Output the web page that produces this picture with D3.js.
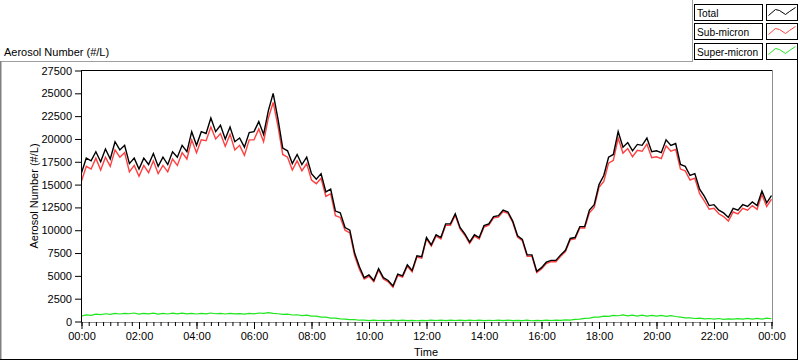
<!DOCTYPE html>
<html><head><meta charset="utf-8">
<script src="https://cdn.jsdelivr.net/npm/d3@7"></script>
<style>
body{margin:0;background:#fff}
svg{display:block}
text{font-family:"Liberation Sans",Arial,sans-serif;font-size:11px;fill:#000}
</style>
</head><body><svg id="c" width="800" height="361"></svg>
<script>
const seriesNames = ["Total","Sub-micron","Super-micron"];
const seriesColors = ["#000000","#ff4040","#1ee61e"];
const stepMinutes = 10;
const total = [16300,17900,17600,18600,17500,18900,17800,19700,18800,19300,
17300,17900,16700,17900,17200,18400,17000,18000,17200,18600,
18000,19300,18600,20800,19300,20800,20600,22300,20800,21500,
20000,21300,19700,20100,19100,20700,20800,21900,20500,23100,
25000,22200,19000,18700,17300,18300,17200,18000,16200,15600,
16200,14200,14500,12100,11900,10300,10000,7500,6000,4800,
5100,4500,5800,4800,4500,3900,5200,5000,6200,5600,
7200,7100,9200,8400,9500,9200,10700,10700,11800,10300,
9600,8700,9500,9200,10500,10700,11500,11600,12200,12000,
11000,9400,9000,7300,7300,5500,5900,6500,6700,6700,
7300,7800,9100,9200,10400,10400,12200,12800,15000,16000,
18000,18300,20800,19100,19600,18700,19400,19300,20100,18600,
18700,18500,19900,19300,19500,17200,17000,16000,16200,14500,
13700,12700,12800,12200,11900,11400,12400,12200,12800,12600,
13100,12700,14300,13000,13800];
const subMicron = [15400,17000,16700,17900,16600,18000,17000,18800,18000,18500,
16400,17100,15900,17100,16300,17600,16200,17100,16400,17800,
17100,18500,17800,19900,18500,19900,19800,21300,20000,20600,
19200,20500,18800,19300,18200,19900,19900,21100,19700,22300,
24000,21400,18300,18000,16600,17600,16500,17300,15500,15100,
15700,13700,14000,11600,11400,10000,9700,7200,5700,4650,
4950,4350,5650,4650,4350,3750,5050,4850,6050,5450,
7050,6950,9050,8250,9350,9050,10550,10550,11650,10150,
9450,8550,9350,9050,10350,10550,11350,11450,12050,11850,
10850,9250,8850,7150,7150,5350,5750,6350,6550,6550,
7150,7650,8950,9050,10250,10250,11900,12500,14700,15350,
17350,17650,20100,18450,18950,18050,18750,18650,19450,17950,
18050,17850,19250,18650,18850,16700,16500,15500,15700,14000,
13200,12300,12400,11800,11500,11000,12000,11800,12400,12200,
12700,12300,13900,12600,13400];
const superMicron = [600,720,680,800,760,850,790,880,820,900,
850,930,820,900,830,910,800,890,820,920,
830,910,840,880,820,900,830,930,850,880,
820,890,830,870,800,880,840,930,900,980,
900,850,780,800,710,740,650,690,580,590,
480,470,380,370,290,270,210,200,140,150,
100,140,110,130,90,140,100,150,100,130,
80,130,100,140,110,150,90,140,110,150,
90,140,110,150,100,130,110,150,90,140,
90,130,100,140,80,130,100,150,110,150,
120,170,160,240,260,350,380,470,490,590,
570,680,630,720,610,700,600,690,590,680,
580,680,570,650,550,480,400,400,330,360,
290,330,250,330,240,290,250,320,270,340,
260,350,270,360,300];
const yTickValues = [0,2500,5000,7500,10000,12500,15000,17500,20000,22500,25000,27500];
const xMajorHours = [0,2,4,6,8,10,12,14,16,18,20,22,24];
const xMajorLabels = ["00:00","02:00","04:00","06:00","08:00","10:00","12:00","14:00","16:00","18:00","20:00","22:00","00:00"];
const xMinorHours = d3.range(0, 24.001, 0.25);
const titleText = "Aerosol Number (#/L)";
const xTitle = "Time";

const svg = d3.select("#c");
const x = d3.scaleLinear().domain([0,24]).range([81.5,771.5]);
const y = d3.scaleLinear().domain([0,27500]).range([321.5,70.5]);

// outer frame
svg.append("line").attr("x1",0).attr("x2",692).attr("y1",61.5).attr("y2",61.5).attr("stroke","#a0a0a0");
svg.append("line").attr("x1",692.5).attr("x2",692.5).attr("y1",0).attr("y2",62).attr("stroke","#a0a0a0");
svg.append("line").attr("x1",0.5).attr("x2",0.5).attr("y1",61).attr("y2",360).attr("stroke","#808080");
svg.append("line").attr("x1",1.5).attr("x2",1.5).attr("y1",62).attr("y2",359).attr("stroke","#c0c0c0");
svg.append("line").attr("x1",0).attr("x2",798).attr("y1",359.5).attr("y2",359.5).attr("stroke","#000");
svg.append("line").attr("x1",797.5).attr("x2",797.5).attr("y1",60).attr("y2",360).attr("stroke","#000");

// title
svg.append("text").attr("x",4).attr("y",56).text(titleText);

// plot frame
svg.append("line").attr("x1",81).attr("x2",773).attr("y1",70.5).attr("y2",70.5).attr("stroke","#000");
svg.append("line").attr("x1",772.5).attr("x2",772.5).attr("y1",70).attr("y2",323).attr("stroke","#909090");
svg.append("line").attr("x1",81).attr("x2",773).attr("y1",322.5).attr("y2",322.5).attr("stroke","#909090");

// clip
svg.append("clipPath").attr("id","pc").append("rect").attr("x",82).attr("y",71).attr("width",690).attr("height",251);

const times = total.map((_, i) => i * stepMinutes / 60);
const line = d3.line().x((d,i) => x(times[i])).y(d => y(d));
const g = svg.append("g").attr("clip-path","url(#pc)");
[[superMicron,2,1.2],[subMicron,1,1.4],[total,0,1.4]].forEach(([arr, ci, w]) => {
  g.append("path").datum(arr).attr("d", line).attr("fill","none")
    .attr("stroke", seriesColors[ci]).attr("stroke-width",w).attr("stroke-linejoin","miter");
});

// y axis
const yAxis = d3.axisLeft(y).tickValues(yTickValues).tickSize(6).tickPadding(3).tickFormat(d3.format("d"));
const ya = svg.append("g").attr("transform","translate(81,0)").call(yAxis);
ya.select(".domain").attr("stroke","#000").attr("d","M0.5,70V322");
ya.selectAll("text").style("font-family","Liberation Sans, Arial, sans-serif").style("font-size","11px");

// x axis minor
const xMinor = d3.axisBottom(x).tickValues(xMinorHours).tickSize(4).tickFormat("");
const xm = svg.append("g").attr("transform","translate(0,322)").call(xMinor);
xm.select(".domain").remove();
// x axis major
const xAxis = d3.axisBottom(x).tickValues(xMajorHours).tickSize(7).tickPadding(3).tickFormat((d,i) => xMajorLabels[i]);
const xa = svg.append("g").attr("transform","translate(0,322)").call(xAxis);
xa.select(".domain").remove();
xa.selectAll("text").style("font-family","Liberation Sans, Arial, sans-serif").style("font-size","11px");

// axis titles
svg.append("text").attr("x",426).attr("y",356).attr("text-anchor","middle").text(xTitle);
svg.append("text").attr("transform","translate(38,196) rotate(-90)").attr("text-anchor","middle").text(titleText);

// legend
const swatchPts = [[2,11],[9,5],[13,6],[19,10],[23,7],[29,3]];
seriesNames.forEach((name, i) => {
  const top = 3.5 + i * 19.5;
  const ty = Math.round(top) + 0.5;
  svg.append("rect").attr("x",694.5).attr("y",ty).attr("width",68).attr("height",16)
    .attr("fill","#fff").attr("stroke","#000");
  svg.append("text").attr("x",697).attr("y",ty + 12.5).style("font-size","10.2px").text(name);
  svg.append("rect").attr("x",766.5).attr("y",ty).attr("width",31).attr("height",16)
    .attr("fill","#fff").attr("stroke","#000");
  svg.append("path").attr("d", d3.line()(swatchPts.map(p => [766.5 + p[0], ty + p[1]])))
    .attr("fill","none").attr("stroke", seriesColors[i]).attr("stroke-width",1);
});
</script>
</body></html>
